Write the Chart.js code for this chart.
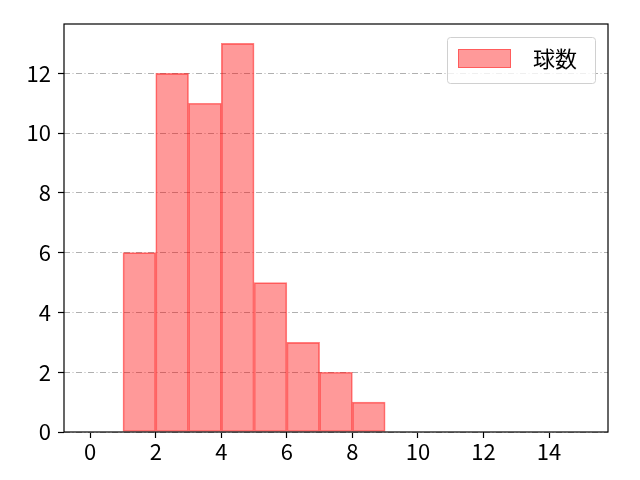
<!DOCTYPE html>
<html>
<head>
<meta charset="utf-8">
<script src="https://cdn.jsdelivr.net/npm/chart.js@4/dist/chart.umd.min.js"></script>
<style>
  html, body { margin: 0; padding: 0; background: #fff; }
  #wrap { width: 640px; height: 480px; }
</style>
</head>
<body>
<div id="wrap"><canvas id="chart" width="640" height="480"></canvas></div>
<script>
// histogram bins (left edges) and counts
const binStarts = [1, 2, 3, 4, 5, 6, 7, 8];
const counts = [6, 12, 11, 13, 5, 3, 2, 1];
const seriesLabel = "球数";
const xTicks = [0, 2, 4, 6, 8, 10, 12, 14];
const yTicks = [0, 2, 4, 6, 8, 10, 12];

const FONT = "'Noto Sans CJK JP', 'Noto Sans', sans-serif";

// frame + legend drawn on top
const framePlugin = {
    id: 'frame',
    afterDraw(chart) {
        const a = chart.chartArea;
        const ctx = chart.ctx;
        ctx.save();
        ctx.strokeStyle = '#000';
        ctx.lineWidth = 1.2;
        ctx.strokeRect(a.left, a.top, a.right - a.left, a.bottom - a.top);

        // legend box
        const lx = 447, ly = 37, lw = 148, lh = 46;
        ctx.fillStyle = 'rgba(255,255,255,0.8)';
        ctx.strokeStyle = '#d0d0d0';
        ctx.lineWidth = 1;
        ctx.beginPath();
        ctx.roundRect(lx + 0.5, ly + 0.5, lw, lh, 3);
        ctx.fill();
        ctx.stroke();
        ctx.fillStyle = 'rgba(255,0,0,0.4)';
        ctx.fillRect(458, 49, 53, 19);
        ctx.strokeStyle = 'rgba(255,0,0,0.4)';
        ctx.strokeRect(458.5, 49.5, 52, 18);
        ctx.fillStyle = '#000';
        ctx.font = '22px ' + FONT;
        ctx.textBaseline = 'middle';
        ctx.fillText(seriesLabel, 533, 59);
        ctx.restore();
    }
};

const ctx = document.getElementById('chart').getContext('2d');
new Chart(ctx, {
    type: 'bar',
    data: {
        datasets: [{
            label: seriesLabel,
            data: binStarts.map((b, i) => ({ x: b + 0.5, y: counts[i] })),
            backgroundColor: 'rgba(255,0,0,0.4)',
            borderColor: 'rgba(255,0,0,0.5)',
            borderWidth: 1,
            borderSkipped: false,
            barPercentage: 1,
            categoryPercentage: 1,
            grouped: false
        }]
    },
    options: {
        responsive: false,
        animation: false,
        layout: { padding: { left: 0, right: 32, top: 24, bottom: 0 } },
        plugins: {
            legend: { display: false },
            tooltip: { enabled: false }
        },
        scales: {
            x: {
                type: 'linear',
                offset: false,
                min: -0.8,
                max: 15.8,
                afterBuildTicks(scale) { scale.ticks = xTicks.map(v => ({ value: v })); },
                afterFit(scale) { scale.height = 48; },
                grid: { offset: false, drawOnChartArea: false, drawTicks: true, tickLength: 6, tickColor: '#000', tickWidth: 1.2 },
                border: { display: false },
                ticks: { color: '#000', font: { family: FONT, size: 22 }, padding: 0, maxRotation: 0 }
            },
            y: {
                min: 0,
                max: 13.65,
                afterBuildTicks(scale) { scale.ticks = yTicks.map(v => ({ value: v })); },
                afterFit(scale) { scale.width = 64; },
                grid: { color: '#b0b0b0', lineWidth: 1, tickLength: 6, tickColor: '#000', tickWidth: 1.2, tickBorderDash: [] },
                border: { display: false, dash: [6, 2.5, 1, 2.5] },
                ticks: { color: '#000', font: { family: FONT, size: 22 }, padding: 7 }
            }
        }
    },
    plugins: [framePlugin]
});
</script>
</body>
</html>
